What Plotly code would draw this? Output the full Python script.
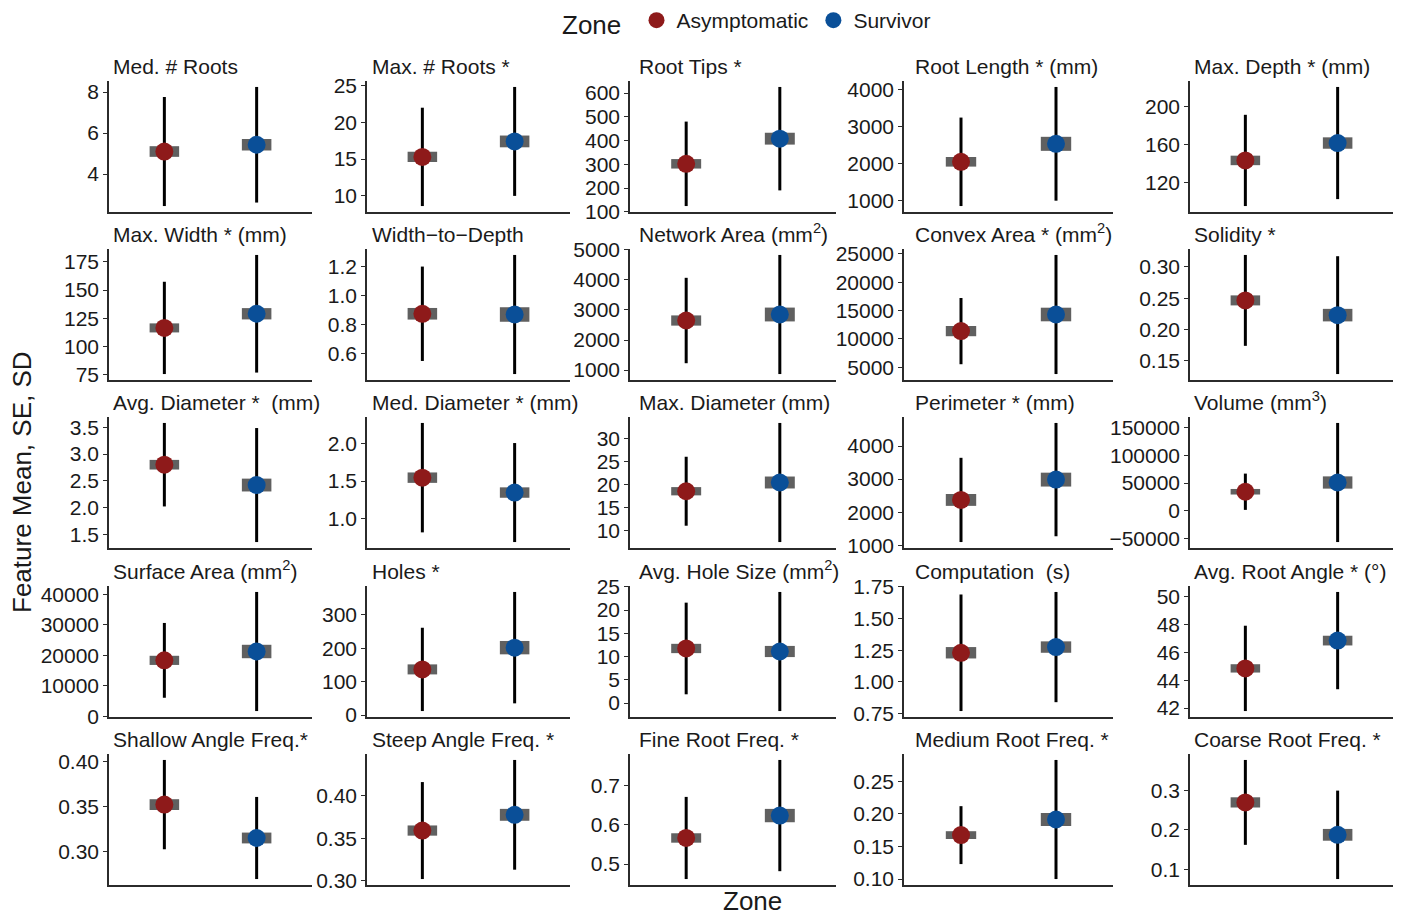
import plotly.graph_objects as go

# ---------------- data ----------------
zones = ["Asymptomatic", "Survivor"]
zone_colors = ["#8E1A1A", "#0A4F98"]

features = [
    "Med. # Roots", "Max. # Roots *", "Root Tips *", "Root Length * (mm)", "Max. Depth * (mm)",
    "Max. Width * (mm)", "Width\u2212to\u2212Depth", "Network Area (mm<sup>2</sup>)",
    "Convex Area * (mm<sup>2</sup>)", "Solidity *",
    "Avg. Diameter *  (mm)", "Med. Diameter * (mm)", "Max. Diameter (mm)", "Perimeter * (mm)",
    "Volume (mm<sup>3</sup>)",
    "Surface Area (mm<sup>2</sup>)", "Holes *", "Avg. Hole Size (mm<sup>2</sup>)", "Computation  (s)",
    "Avg. Root Angle * (\u00b0)",
    "Shallow Angle Freq.*", "Steep Angle Freq. *", "Fine Root Freq. *", "Medium Root Freq. *",
    "Coarse Root Freq. *",
]

asym_mean = [5.1, 15.3, 302, 2053, 143.7,
             116.5, 0.875, 2650, 11370, 0.2465,
             2.80, 1.545, 18.6, 2370, 34400,
             18350, 136.5, 11.75, 1.23, 44.86,
             0.3525, 0.359, 0.5665, 0.1675, 0.270]
asym_se = [0.26, 0.7, 20, 130, 5,
           4, 0.04, 170, 900, 0.008,
           0.09, 0.07, 0.9, 180, 5000,
           1500, 15, 1.0, 0.045, 0.3,
           0.006, 0.006, 0.012, 0.006, 0.013]
asym_sd = [2.66, 6.68, 178, 1198, 48,
           40.8, 0.325, 1420, 5840, 0.0725,
           0.78, 0.735, 7.5, 1275, 32600,
           12250, 124.5, 9.85, 0.46, 3.07,
           0.0495, 0.057, 0.1045, 0.0445, 0.108]

surv_mean = [5.43, 17.4, 408, 2540, 162,
             129, 0.87, 2850, 14300, 0.223,
             2.42, 1.345, 20.5, 2985, 51000,
             21250, 201.5, 11.1, 1.275, 46.86,
             0.3155, 0.3775, 0.6235, 0.1915, 0.1875]
surv_se = [0.28, 0.8, 25, 190, 6,
           5, 0.05, 230, 1200, 0.01,
           0.12, 0.07, 1.3, 210, 11000,
           2200, 20, 1.2, 0.045, 0.35,
           0.006, 0.007, 0.017, 0.01, 0.015]
surv_sd = [2.82, 7.4, 218, 1540, 59,
           52, 0.41, 1980, 10500, 0.094,
           1.065, 0.665, 12.95, 1715, 107000,
           19500, 166.5, 12.8, 0.435, 3.5,
           0.0455, 0.0645, 0.1415, 0.0915, 0.1125]

tick_labels = [
    ["4", "6", "8"], ["10", "15", "20", "25"], ["100", "200", "300", "400", "500", "600"],
    ["1000", "2000", "3000", "4000"], ["120", "160", "200"],
    ["75", "100", "125", "150", "175"], ["0.6", "0.8", "1.0", "1.2"],
    ["1000", "2000", "3000", "4000", "5000"], ["5000", "10000", "15000", "20000", "25000"],
    ["0.15", "0.20", "0.25", "0.30"],
    ["1.5", "2.0", "2.5", "3.0", "3.5"], ["1.0", "1.5", "2.0"], ["10", "15", "20", "25", "30"],
    ["1000", "2000", "3000", "4000"], ["\u221250000", "0", "50000", "100000", "150000"],
    ["0", "10000", "20000", "30000", "40000"], ["0", "100", "200", "300"],
    ["0", "5", "10", "15", "20", "25"], ["0.75", "1.00", "1.25", "1.50", "1.75"],
    ["42", "44", "46", "48", "50"],
    ["0.30", "0.35", "0.40"], ["0.30", "0.35", "0.40"], ["0.5", "0.6", "0.7"],
    ["0.10", "0.15", "0.20", "0.25"], ["0.1", "0.2", "0.3"],
]

# ---------------- layout geometry (pixels) ----------------
W, H = 1408, 915
col_left = [109, 367, 630, 904, 1190]
col_right = [312, 570, 836, 1113, 1393]
title_dx = [2, 3, 7, 9, 2]
row_bottom = [212, 380, 548, 717, 885]
row_h = 131

FONT = "Liberation Sans, Arial, sans-serif"
AX = "#2b2b2b"

fig = go.Figure()
layout = dict(
    width=W, height=H,
    margin=dict(l=0, r=0, t=0, b=0, autoexpand=False),
    paper_bgcolor="white", plot_bgcolor="white",
    font=dict(family=FONT, size=21, color="#1a1a1a"),
    barmode="overlay",
    showlegend=True,
    legend=dict(
        orientation="h", x=748 / W, xanchor="center", y=1 - 22 / H, yanchor="middle",
        title=dict(text="Zone ", font=dict(size=26), side="left"),
        font=dict(size=21), itemsizing="trace", bgcolor="rgba(0,0,0,0)",
    ),
)
annotations = []


def num(s):
    return float(s.replace("\u2212", "-"))


for i, name in enumerate(features):
    r, c = divmod(i, 5)
    k = i + 1
    xa = "x" if k == 1 else f"x{k}"
    ya = "y" if k == 1 else f"y{k}"
    means = [asym_mean[i], surv_mean[i]]
    ses = [asym_se[i], surv_se[i]]
    sds = [asym_sd[i], surv_sd[i]]

    # SE boxes
    fig.add_trace(go.Bar(
        x=[1, 2], y=[2 * s for s in ses], base=[m - s for m, s in zip(means, ses)],
        width=0.32, marker=dict(color="#606060", line=dict(width=0)),
        xaxis=xa, yaxis=ya, showlegend=False, hoverinfo="skip",
    ))
    # mean points with SD bars
    for z in range(2):
        fig.add_trace(go.Scatter(
            x=[z + 1], y=[means[z]], mode="markers",
            marker=dict(color=zone_colors[z], size=18),
            error_y=dict(type="data", array=[sds[z]], color="black", thickness=3, width=0),
            name=zones[z], legendgroup=zones[z], showlegend=(i == 0),
            xaxis=xa, yaxis=ya,
        ))

    lo = min(m - s for m, s in zip(means, sds))
    hi = max(m + s for m, s in zip(means, sds))
    pad = 0.05 * (hi - lo)
    x0 = col_left[c] / W
    x1 = col_right[c] / W
    yb = 1 - row_bottom[r] / H
    yt = 1 - (row_bottom[r] - row_h) / H
    key_x = "xaxis" if k == 1 else f"xaxis{k}"
    key_y = "yaxis" if k == 1 else f"yaxis{k}"
    layout[key_x] = dict(
        domain=[x0, x1], anchor=ya, range=[0.4, 2.6], automargin=False,
        showline=True, linecolor=AX, linewidth=1.5, showticklabels=False,
        ticks="", showgrid=False, zeroline=False, fixedrange=True,
    )
    tl = tick_labels[i]
    layout[key_y] = dict(
        domain=[yb, yt], anchor=xa, range=[lo - pad, hi + pad], automargin=False,
        showline=True, linecolor=AX, linewidth=1.5,
        tickmode="array", tickvals=[num(t) for t in tl], ticktext=tl,
        ticks="outside", ticklen=4, tickcolor=AX, tickwidth=1,
        tickfont=dict(size=21, color="#1a1a1a"),
        showgrid=False, zeroline=False, fixedrange=True,
    )
    annotations.append(dict(
        text=name, xref="paper", yref="paper",
        x=(col_left[c] + title_dx[c]) / W, y=yt, xanchor="left", yanchor="bottom",
        yshift=1, showarrow=False, font=dict(size=21, color="#1a1a1a"),
    ))

annotations.append(dict(
    text="Feature Mean, SE, SD", xref="paper", yref="paper",
    x=22 / W, y=1 - 482 / H, textangle=-90, showarrow=False,
    font=dict(size=26, color="#1a1a1a"), xanchor="center", yanchor="middle",
))
annotations.append(dict(
    text="Zone", xref="paper", yref="paper",
    x=752 / W, y=1 - 901 / H, showarrow=False,
    font=dict(size=26, color="#1a1a1a"), xanchor="center", yanchor="middle",
))
layout["annotations"] = annotations
fig.update_layout(**layout)
fig.write_html(
    "out.html",
    config={"displayModeBar": False},
    post_script="document.body.style.margin='0';document.body.style.overflow='hidden';",
)
